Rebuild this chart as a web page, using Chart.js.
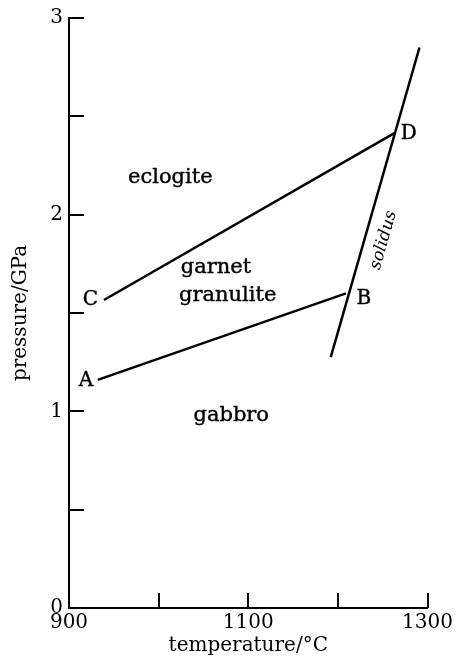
<!DOCTYPE html>
<html>
<head>
<meta charset="utf-8">
<script src="https://cdn.jsdelivr.net/npm/chart.js@4.4.0/dist/chart.umd.min.js"></script>
<style>
  html, body { margin: 0; padding: 0; background: #fff; }
  #wrap { width: 456px; height: 658px; }
</style>
</head>
<body>
<div id="wrap"><canvas id="c" width="456" height="658"></canvas></div>
<script>
// ---- data (temperature °C, pressure GPa) ----
const lineAB_T = [932, 1209];
const lineAB_P = [1.16, 1.60];
const lineCD_T = [939, 1263];
const lineCD_P = [1.566, 2.415];
const solidus_T = [1192, 1291];
const solidus_P = [1.276, 2.85];

const xTickLabels = [900, 1100, 1300];
const yTickLabels = [0, 1, 2, 3];

const regionNames = ['eclogite', 'garnet', 'granulite', 'gabbro'];
const regionT = [1013, 1064, 1077, 1081];
const regionP = [2.19, 1.73, 1.59, 0.98];

const pointNames = ['A', 'B', 'C', 'D'];
const pointT = [919, 1229, 924, 1279];
const pointP = [1.155, 1.57, 1.566, 2.41];

const solidusLabel = 'solidus';
const solidusLabelT = 1251;
const solidusLabelP = 1.87;

const FONT = '"DejaVu Serif", "Liberation Serif", serif';

function pts(T, P) { return T.map((t, i) => ({ x: t, y: P[i] })); }

const lineDs = (T, P) => ({
  data: pts(T, P), showLine: true, borderColor: '#000', borderWidth: 2.5,
  pointRadius: 0, fill: false, tension: 0
});

const annotations = {
  id: 'annotations',
  afterDatasetsDraw(chart) {
    const { ctx, scales: { x, y } } = chart;
    ctx.save();
    ctx.fillStyle = '#000';
    ctx.strokeStyle = '#000';
    ctx.lineWidth = 0.4;
    ctx.textAlign = 'center';
    ctx.textBaseline = 'middle';
    ctx.font = '21px ' + FONT;
    regionNames.forEach((n, i) => {
      const px = x.getPixelForValue(regionT[i]), py = y.getPixelForValue(regionP[i]);
      ctx.fillText(n, px, py); ctx.strokeText(n, px, py);
    });
    ctx.font = '20px ' + FONT;
    pointNames.forEach((n, i) => {
      const px = x.getPixelForValue(pointT[i]), py = y.getPixelForValue(pointP[i]);
      ctx.fillText(n, px, py); ctx.strokeText(n, px, py);
    });
    // solidus label rotated parallel to line
    const x0 = x.getPixelForValue(solidus_T[0]), y0 = y.getPixelForValue(solidus_P[0]);
    const x1 = x.getPixelForValue(solidus_T[1]), y1 = y.getPixelForValue(solidus_P[1]);
    const ang = Math.atan2(y1 - y0, x1 - x0);
    ctx.translate(x.getPixelForValue(solidusLabelT), y.getPixelForValue(solidusLabelP));
    ctx.rotate(ang);
    ctx.font = 'italic 17px ' + FONT;
    ctx.fillText(solidusLabel, 0, 0);
    ctx.restore();
  }
};

const inwardTicks = {
  id: 'inwardTicks',
  afterDraw(chart) {
    const { ctx, scales: { x, y }, chartArea: a } = chart;
    ctx.save();
    ctx.strokeStyle = '#000';
    ctx.lineWidth = 2;
    ctx.beginPath();
    x.ticks.forEach(t => {
      const px = Math.round(x.getPixelForValue(t.value));
      ctx.moveTo(px, a.bottom); ctx.lineTo(px, a.bottom - 15);
    });
    y.ticks.forEach(t => {
      const py = Math.round(y.getPixelForValue(t.value));
      ctx.moveTo(a.left, py); ctx.lineTo(a.left + 15, py);
    });
    ctx.stroke();
    ctx.restore();
  }
};

new Chart(document.getElementById('c'), {
  type: 'scatter',
  data: {
    datasets: [
      lineDs(lineAB_T, lineAB_P),
      lineDs(lineCD_T, lineCD_P),
      lineDs(solidus_T, solidus_P)
    ]
  },
  options: {
    responsive: false,
    animation: false,
    events: [],
    layout: { padding: { top: 18, right: 26, left: 0, bottom: 0 } },
    plugins: { legend: { display: false }, tooltip: { enabled: false } },
    scales: {
      x: {
        type: 'linear', min: 900, max: 1300,
        afterFit(s) { s.height = 50; },
        border: { display: true, color: '#000', width: 2 },
        grid: { display: true, drawOnChartArea: false, drawTicks: false },
        ticks: {
          stepSize: 100, padding: 3, color: '#000', maxRotation: 0,
          font: { family: FONT, size: 20 },
          callback: v => xTickLabels.includes(v) ? String(v) : ''
        },
        title: {
          display: true, text: 'temperature/°C', color: '#000',
          font: { family: FONT, size: 20 }, padding: { top: 0, bottom: 0 }
        }
      },
      y: {
        type: 'linear', min: 0, max: 3,
        afterFit(s) { s.width = 69; },
        border: { display: true, color: '#000', width: 2 },
        grid: { display: true, drawOnChartArea: false, drawTicks: false },
        ticks: {
          stepSize: 0.5, padding: 6, color: '#000',
          font: { family: FONT, size: 20 },
          callback: v => yTickLabels.includes(v) ? String(v) : ''
        },
        title: {
          display: true, text: 'pressure/GPa', color: '#000',
          font: { family: FONT, size: 20 }, padding: { top: 9, bottom: 0 }
        }
      }
    }
  },
  plugins: [annotations, inwardTicks]
});
</script>
</body>
</html>
